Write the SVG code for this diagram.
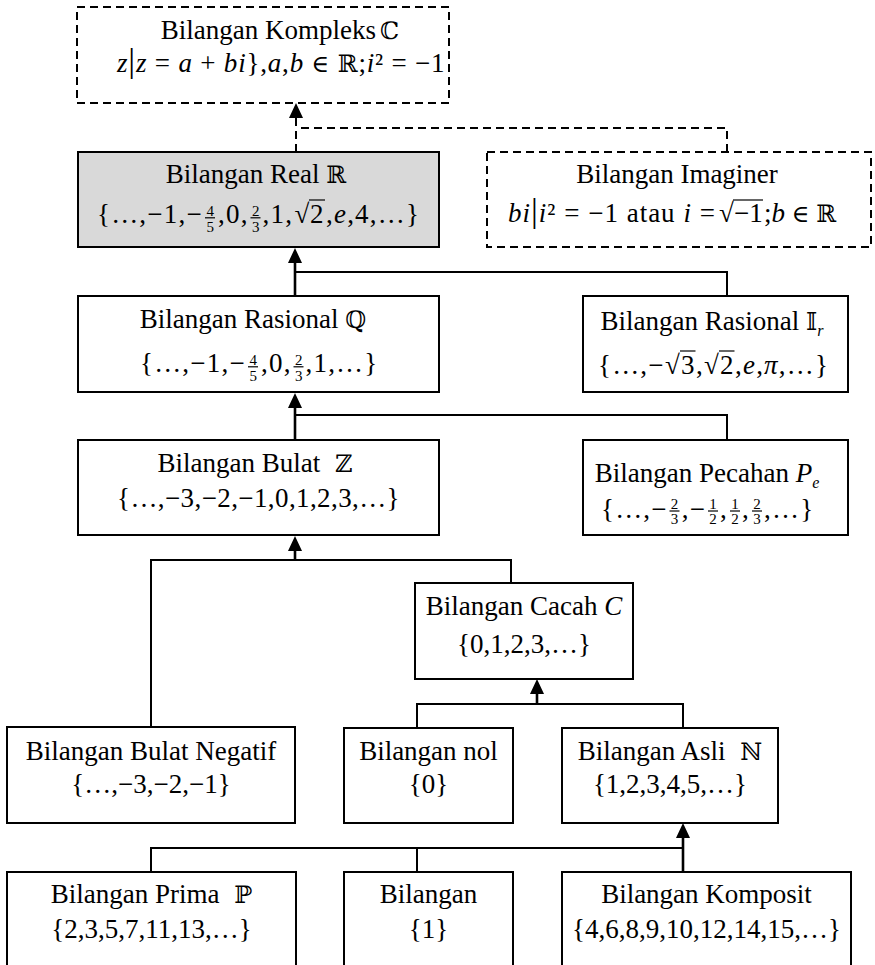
<svg xmlns="http://www.w3.org/2000/svg" width="875" height="965" viewBox="0 0 875 965">
<defs>
<style>
.t{font-family:"Liberation Serif","Times New Roman",serif;font-size:27px;fill:#000}
.m{text-anchor:middle}
.i{font-style:italic}
.ds{font-family:"DejaVu Serif","DejaVu Sans",serif;font-size:24px;font-style:normal}
.fr{font-size:15px}
.ls{letter-spacing:1.2px}
.box{fill:#fff;stroke:#000;stroke-width:2}
.dash{stroke-dasharray:8 5}
.real{fill:#d9d9d9}
.bar{stroke:#000;stroke-width:1.2;fill:none}
.conn{fill:none;stroke:#000;stroke-width:2}
.main{stroke-width:2.6}
</style>
<marker id="arr" markerUnits="userSpaceOnUse" markerWidth="15" markerHeight="14" viewBox="0 0 15 14" refX="0" refY="7" orient="auto"><path d="M0,0 L15,7 L0,14 z" fill="#000"/></marker>
</defs>
<rect width="875" height="965" fill="#fff"/>
<g id="connectors">
<path class="conn dash" d="M727,152 V128 H296"/>
<path class="conn dash" d="M296,152 V118" marker-end="url(#arr)"/>
<path class="conn main" d="M295,296 V263" marker-end="url(#arr)"/>
<path class="conn" d="M295,272 H727 V296"/>
<path class="conn main" d="M295,440 V408" marker-end="url(#arr)"/>
<path class="conn" d="M295,415 H727 V440"/>
<path class="conn main" d="M295,560 V551" marker-end="url(#arr)"/>
<path class="conn" d="M151,727 V560 H511 V583"/>
<path class="conn main" d="M537,704 V694" marker-end="url(#arr)"/>
<path class="conn" d="M417,728 V704 H683 V728"/>
<path class="conn main" d="M683,872 V838" marker-end="url(#arr)"/>
<path class="conn" d="M151,872 V848 H683"/>
<path class="conn" d="M417,848 V872"/>
</g>
<g id="kompleks">
<rect class="box dash" x="77" y="7" width="372" height="96"/>
<text class="t m" x="280" y="39">Bilangan Kompleks<tspan class="ds" dx="4">ℂ</tspan></text>
<text class="t" x="117" y="72" letter-spacing="0.8"><tspan class="i">z</tspan><tspan font-size="34">|</tspan><tspan class="i">z</tspan> = <tspan class="i">a</tspan> + <tspan class="i">bi</tspan>},<tspan class="i">a</tspan>,<tspan class="i">b</tspan> <tspan class="ds">∈</tspan> <tspan class="ds">ℝ</tspan>;<tspan class="i">i</tspan>² = −1</text>
</g>
<g id="real">
<rect class="box real" x="78" y="152" width="361" height="95"/>
<text class="t m" x="256" y="183">Bilangan Real <tspan class="ds">ℝ</tspan></text>
<text class="t ls" x="97" y="223">{…,−1,−</text>
<text class="t fr" x="206.5" y="215.5">4<tspan x="206.5" dy="16">5</tspan></text>
<line class="bar" x1="205" y1="217.8" x2="215" y2="217.8"/>
<text class="t ls" x="218" y="223">,0,</text>
<text class="t fr" x="252" y="215.5">2<tspan x="252" dy="16">3</tspan></text>
<line class="bar" x1="250.5" y1="217.8" x2="260.5" y2="217.8"/>
<text class="t ls" x="262.5" y="223">,1,</text>
<text class="t" x="294.5" y="223">√</text>
<text class="t" x="310" y="223">2</text>
<line class="bar" x1="309" y1="200" x2="325" y2="200"/>
<text class="t ls" x="326" y="223">,<tspan class="i">e</tspan>,4,…}</text>
</g>
<g id="imaginer">
<rect class="box dash" x="487" y="152" width="384" height="95"/>
<text class="t m" x="677" y="183">Bilangan Imaginer</text>
<text class="t" x="508" y="222" letter-spacing="1"><tspan class="i">bi</tspan><tspan font-size="34">|</tspan><tspan class="i">i</tspan>² = −1 atau <tspan class="i">i</tspan> = </text>
<text class="t" x="719" y="222">√</text>
<text class="t" x="734" y="222">−1</text>
<line class="bar" x1="733" y1="200" x2="763" y2="200"/>
<text class="t" x="764" y="222">;<tspan class="i">b</tspan> <tspan class="ds">∈</tspan> <tspan class="ds">ℝ</tspan></text>
</g>
<g id="rasional">
<rect class="box" x="78" y="296" width="361" height="96"/>
<text class="t m" x="253" y="328">Bilangan Rasional <tspan class="ds">ℚ</tspan></text>
<text class="t ls" x="140" y="372">{…,−1,−</text>
<text class="t fr" x="249.5" y="364.5">4<tspan x="249.5" dy="16">5</tspan></text>
<line class="bar" x1="248" y1="366.8" x2="258" y2="366.8"/>
<text class="t ls" x="261" y="372">,0,</text>
<text class="t fr" x="295" y="364.5">2<tspan x="295" dy="16">3</tspan></text>
<line class="bar" x1="293.5" y1="366.8" x2="303.5" y2="366.8"/>
<text class="t ls" x="305.5" y="372">,1,…}</text>
</g>
<g id="irasional">
<rect class="box" x="583" y="296" width="265" height="96"/>
<text class="t m" x="712" y="330">Bilangan Rasional <tspan class="ds">𝕀</tspan><tspan class="i" font-size="16" dy="6">r</tspan></text>
<text class="t ls" x="598" y="374">{…,−</text>
<text class="t" x="665" y="374">√</text>
<text class="t" x="681" y="374">3</text>
<line class="bar" x1="680" y1="351" x2="695.5" y2="351"/>
<text class="t ls" x="696" y="374">,</text>
<text class="t" x="704" y="374">√</text>
<text class="t" x="720" y="374">2</text>
<line class="bar" x1="719" y1="351" x2="734.5" y2="351"/>
<text class="t ls" x="735" y="374">,<tspan class="i">e</tspan>,<tspan class="i">π</tspan>,…}</text>
</g>
<g id="bulat">
<rect class="box" x="78" y="440" width="361" height="95"/>
<text class="t m" x="255" y="472">Bilangan Bulat <tspan class="ds" dx="8">ℤ</tspan></text>
<text class="t m" x="258.5" y="507" letter-spacing="0.4">{…,−3,−2,−1,0,1,2,3,…}</text>
</g>
<g id="pecahan">
<rect class="box" x="583" y="440" width="265" height="95"/>
<text class="t m" x="707" y="482">Bilangan Pecahan <tspan class="i">P</tspan><tspan class="i" font-size="16" dy="6">e</tspan></text>
<text class="t ls" x="601" y="518">{…,−</text>
<text class="t fr" x="670.8" y="508.5">2<tspan x="670.8" dy="15">3</tspan></text>
<line class="bar" x1="669.5" y1="511" x2="679.5" y2="511"/>
<text class="t ls" x="681.7" y="518">,−</text>
<text class="t fr" x="709.3" y="508.5">1<tspan x="709.3" dy="15">2</tspan></text>
<line class="bar" x1="708" y1="511" x2="718" y2="511"/>
<text class="t ls" x="720" y="518">,</text>
<text class="t fr" x="731.3" y="508.5">1<tspan x="731.3" dy="15">2</tspan></text>
<line class="bar" x1="730" y1="511" x2="740" y2="511"/>
<text class="t ls" x="742" y="518">,</text>
<text class="t fr" x="753.3" y="508.5">2<tspan x="753.3" dy="15">3</tspan></text>
<line class="bar" x1="752" y1="511" x2="762" y2="511"/>
<text class="t ls" x="764" y="518">,…}</text>
</g>
<g id="cacah">
<rect class="box" x="415" y="583" width="218" height="96"/>
<text class="t m" x="524" y="615">Bilangan Cacah <tspan class="i">C</tspan></text>
<text class="t m" x="524" y="653">{0,1,2,3,…}</text>
</g>
<g id="negatif">
<rect class="box" x="7" y="727" width="288" height="96"/>
<text class="t m" x="151" y="760">Bilangan Bulat Negatif</text>
<text class="t m" x="151" y="793">{…,−3,−2,−1}</text>
</g>
<g id="nol">
<rect class="box" x="344" y="728" width="169" height="95"/>
<text class="t m" x="428.5" y="760">Bilangan nol</text>
<text class="t m" x="428.5" y="793">{0}</text>
</g>
<g id="asli">
<rect class="box" x="562" y="728" width="216" height="95"/>
<text class="t m" x="670" y="760">Bilangan Asli <tspan class="ds" dx="8">ℕ</tspan></text>
<text class="t m" x="670" y="793">{1,2,3,4,5,…}</text>
</g>
<g id="prima">
<rect class="box" x="7" y="872" width="289" height="100"/>
<text class="t m" x="151.5" y="903">Bilangan Prima <tspan class="ds" dx="8">ℙ</tspan></text>
<text class="t m" x="151.5" y="938">{2,3,5,7,11,13,…}</text>
</g>
<g id="satu">
<rect class="box" x="344" y="872" width="169" height="100"/>
<text class="t m" x="428.5" y="903">Bilangan</text>
<text class="t m" x="428.5" y="938">{1}</text>
</g>
<g id="komposit">
<rect class="box" x="562" y="872" width="289" height="100"/>
<text class="t m" x="706.5" y="903">Bilangan Komposit</text>
<text class="t m" x="706.5" y="938">{4,6,8,9,10,12,14,15,…}</text>
</g>
</svg>
